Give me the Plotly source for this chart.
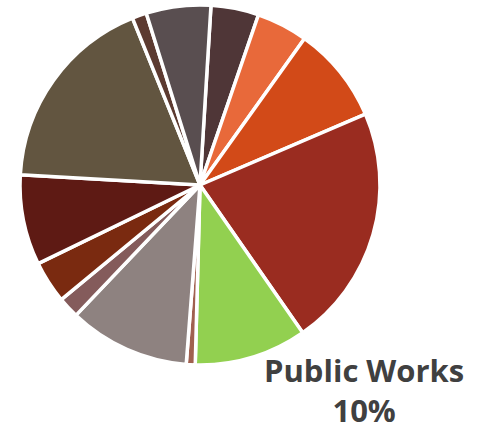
import plotly.graph_objects as go

# Budget share by department, clockwise from the top
departments = [
    "Parks", "Library", "Utilities", "Police", "Public Works", "Cemetery",
    "Fire", "Planning", "Courts", "Finance", "Administration", "Museum",
    "Recreation",
]
shares = [4.3, 4.6, 8.7, 21.8, 10.1, 0.8, 10.9, 1.9, 3.8, 8.1, 18.0, 1.3, 5.8]
colors = [
    "#4F3637", "#E8693A", "#D24A18", "#9A2C20", "#92D050", "#A0604F",
    "#8E8280", "#845B5B", "#7A2A10", "#5E1A14", "#625540", "#5C3A30",
    "#594E50",
]
highlight = "Public Works"

W, H = 483, 431
cx, cy, r = 200, 185, 180  # pie centre and radius in pixels

fig = go.Figure(go.Pie(
    labels=departments,
    values=shares,
    sort=False,
    direction="clockwise",
    rotation=3.5,
    marker=dict(colors=colors, line=dict(color="white", width=3.5)),
    textinfo="none",
    hoverinfo="label+percent",
    domain=dict(
        x=[(cx - r) / W, (cx + r) / W],
        y=[(H - cy - r) / H, (H - cy + r) / H],
    ),
    showlegend=False,
))

# Callout for the highlighted slice: name on one line, share below it
i = departments.index(highlight)
pct = round(shares[i] / sum(shares) * 100)
fig.add_annotation(
    text=f"{highlight}<br>{pct}%",
    x=364 / W, y=1 - 390 / H, xref="paper", yref="paper",
    xanchor="center", yanchor="middle", showarrow=False,
    borderpad=0,
    font=dict(family="Open Sans", size=31, color="#404040", weight="bold"),
)

fig.update_layout(
    width=W, height=H,
    margin=dict(l=0, r=0, t=0, b=0),
    paper_bgcolor="white", plot_bgcolor="white",
)

fig.write_html("out.html")
